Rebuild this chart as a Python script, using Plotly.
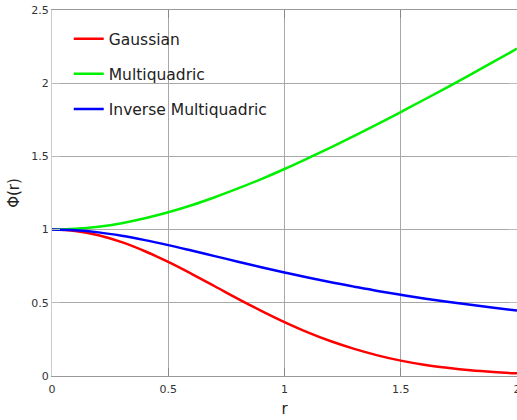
import plotly.graph_objects as go

r = [0.0, 0.1, 0.2, 0.3, 0.4, 0.5, 0.6, 0.7, 0.8, 0.9, 1.0,
     1.1, 1.2, 1.3, 1.4, 1.5, 1.6, 1.7, 1.8, 1.9, 2.0]
gaussian = [1.0, 0.990, 0.961, 0.914, 0.852, 0.779, 0.698, 0.613, 0.527, 0.445, 0.368,
            0.298, 0.237, 0.185, 0.141, 0.105, 0.077, 0.056, 0.039, 0.027, 0.018]
multiquadric = [1.0, 1.005, 1.020, 1.044, 1.077, 1.118, 1.166, 1.221, 1.281, 1.345, 1.414,
                1.487, 1.562, 1.640, 1.720, 1.803, 1.887, 1.972, 2.059, 2.147, 2.236]
inverse_mq = [1.0, 0.995, 0.981, 0.958, 0.928, 0.894, 0.857, 0.819, 0.781, 0.743, 0.707,
              0.673, 0.640, 0.610, 0.581, 0.555, 0.530, 0.507, 0.486, 0.466, 0.447]
x_ticks = [0, 0.5, 1, 1.5, 2]
x_tick_labels = ["0", "0.5", "1", "1.5", "2"]
y_ticks = [0, 0.5, 1, 1.5, 2, 2.5]
y_tick_labels = ["0", "0.5", "1", "1.5", "2", "2.5"]

series = [("Gaussian", gaussian, "#ff0000"),
          ("Multiquadric", multiquadric, "#00f000"),
          ("Inverse Multiquadric", inverse_mq, "#0000ff")]

fig = go.Figure()
for i, (name, vals, col) in enumerate(series):
    fig.add_trace(go.Scatter(x=r, y=vals, mode="lines", name=name,
                             legendgroup=str(i),
                             line=dict(color=col, width=2.5, shape="spline")))

font = "DejaVu Sans, sans-serif"
# white box behind the legend, hiding the gridlines there
fig.add_shape(type="rect", xref="paper", yref="paper",
              x0=0, x1=0.487, y0=0.70, y1=1.0,
              fillcolor="white", line=dict(width=0), layer="between")

fig.update_layout(
    width=517, height=420,
    margin=dict(l=52, r=0, t=10, b=44),
    paper_bgcolor="white", plot_bgcolor="white",
    font=dict(family=font, color="#333333", size=11),
    legend=dict(x=0.036, y=0.967, xanchor="left", yanchor="top",
                bgcolor="rgba(0,0,0,0)", borderwidth=0,
                font=dict(family=font, size=15.5, color="#222222"),
                traceorder="grouped", tracegroupgap=12,
                itemwidth=30),
    showlegend=True,
)
fig.update_xaxes(range=[0, 2], tickvals=x_ticks, ticktext=x_tick_labels,
                 showgrid=True, gridcolor="#a8a8a8", gridwidth=1,
                 showline=True, linecolor="#999999", mirror="ticks",
                 ticks="inside", ticklen=8, tickcolor="#888888",
                 zeroline=False, automargin=False, ticklabeloverflow="allow",
                 ticklabelstandoff=3,
                 title=dict(text="r", font=dict(size=15, color="#222222"), standoff=8))
fig.update_yaxes(range=[0, 2.5], tickvals=y_ticks, ticktext=y_tick_labels,
                 showgrid=True, gridcolor="#a8a8a8", gridwidth=1,
                 showline=True, linecolor="#cccccc", mirror="ticks",
                 ticks="inside", ticklen=8, tickcolor="#bbbbbb",
                 zeroline=False, automargin=False, ticklabeloverflow="allow",
                 title=dict(text="Φ(r)", font=dict(size=15, color="#222222"), standoff=8))

fig.write_html("out.html",
               config={"displayModeBar": False},
               post_script="document.body.style.margin='0px';document.body.style.padding='0px';")
